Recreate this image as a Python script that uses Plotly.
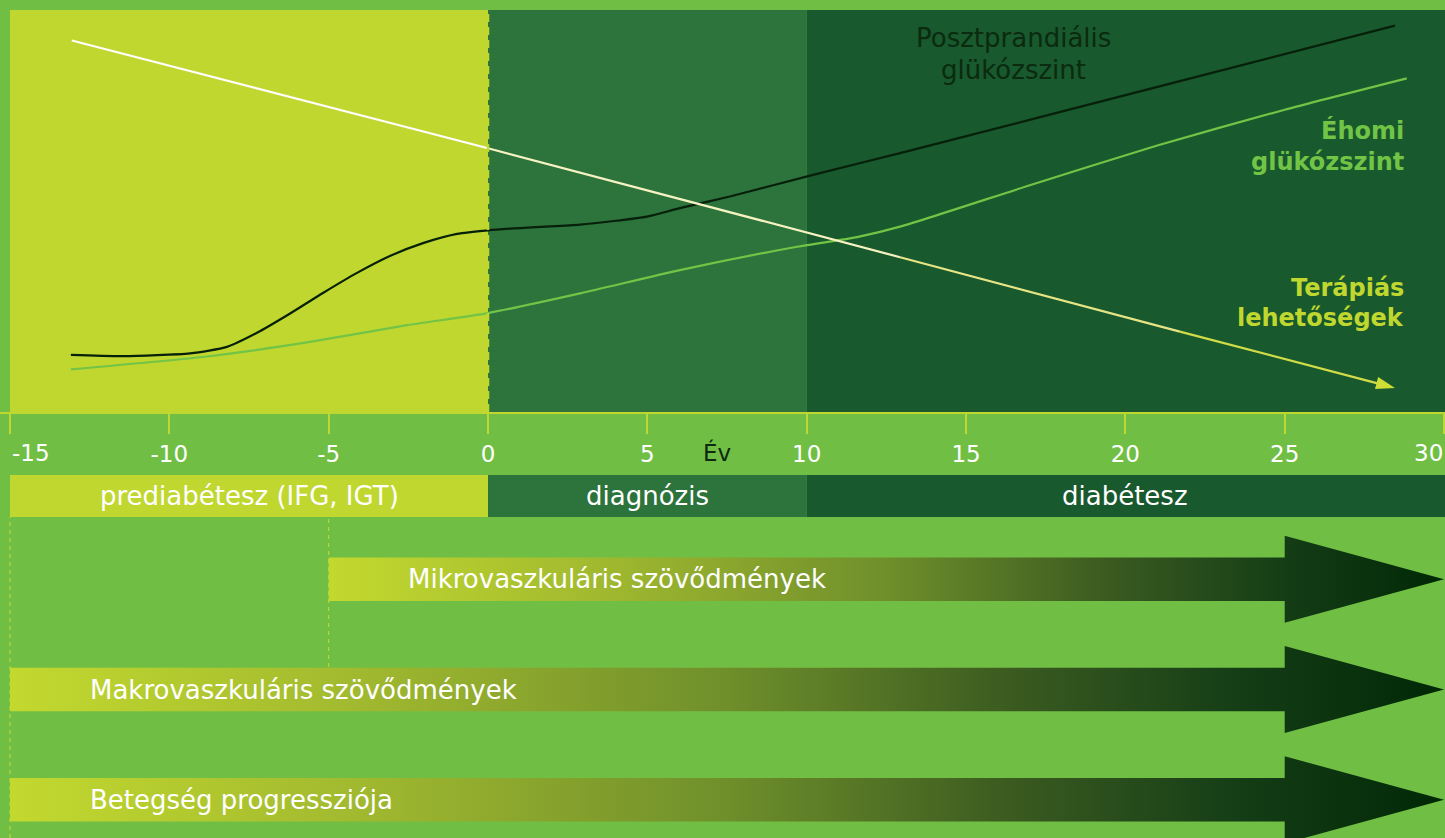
import plotly.graph_objects as go

# ---------------- data ----------------
# Posztprandiális glükózszint (relative level 0-100)
pp_years = [-13.09, -11.45, -9.35, -8.19, -7.25, -6.21, -5.18, -4.11, -3.08, -2.04, -0.97, 0.0, 1.5,
            2.89, 4.99, 6.02, 7.59, 10.2, 12.93, 21.71, 28.46]
pp_vals = [14.2, 13.9, 14.6, 16.2, 19.7, 24.5, 29.6, 34.6, 38.8, 42.0, 44.3, 45.2, 46.0,
           46.6, 48.6, 50.7, 53.6, 59.0, 64.4, 82.3, 96.1]
# Éhomi glükózszint
fg_years = [-13.09, -8.82, -5.68, -2.54, 0.0, 2.89, 6.02, 9.70, 11.58, 12.93, 17.0, 21.0, 25.0, 28.83]
fg_vals = [10.6, 13.8, 17.3, 21.6, 24.6, 29.5, 35.3, 41.1, 43.5, 46.1, 56.4, 66.3, 75.2, 83.0]
# Terápiás lehetőségek
th_years = [-13.06, 0.0, 12.93, 21.71, 28.46]
th_vals = [92.4, 65.6, 38.5, 20.0, 6.0]

phases = ["prediabétesz (IFG, IGT)", "diagnózis", "diabétesz"]
phase_start = [-15, 0, 10]
phase_end = [0, 10, 30]

complications = ["Mikrovaszkuláris szövődmények", "Makrovaszkuláris szövődmények", "Betegség progressziója"]
comp_start = [-5, -15, -15]
comp_end = [30, 30, 30]

tick_vals = [-15, -10, -5, 0, 5, 10, 15, 20, 25, 30]

# ---------------- style ----------------
FONT = "DejaVu Sans"
FS = 26      # labels
FS_T = 23    # tick labels
FS_B = 24    # bold curve labels
BG = "#70BF44"
YEL = "#C0D72F"
DIAG = "#2C733C"
DIAB = "#18592D"
DARK = "#0B2A10"
phase_cols = [YEL, DIAG, DIAB]

W, H = 1445, 838
XMIN, XMAX = -15.314, 30.03
top_dom = [1 - 412 / H, 1 - 10 / H]
band_y0, band_y1 = 1 - 517 / H, 1 - 475 / H
ROW_PX = 110.25
ROW0_PX = 579.3
y2_range = [(H - ROW0_PX) / ROW_PX, -ROW0_PX / ROW_PX]

fig = go.Figure()

# glucose curves
fig.add_trace(go.Scatter(x=fg_years, y=fg_vals, mode="lines", xaxis="x", yaxis="y",
                         line=dict(color="#72C446", width=2.2, shape="spline", smoothing=0.6),
                         hoverinfo="skip", showlegend=False))
fig.add_trace(go.Scatter(x=pp_years, y=pp_vals, mode="lines", xaxis="x", yaxis="y",
                         line=dict(color="#06200A", width=2.2, shape="spline", smoothing=0.6),
                         hoverinfo="skip", showlegend=False))

# therapy line, shaded from white to yellow
seg_cols = ["#FFFFFF", "#F6F2C2", "#E6E585", "#D0DC48"]
for i in range(len(th_years) - 1):
    last = i == len(th_years) - 2
    fig.add_trace(go.Scatter(
        x=th_years[i:i + 2], y=th_vals[i:i + 2],
        mode="lines+markers" if last else "lines", xaxis="x", yaxis="y",
        line=dict(color=seg_cols[i], width=2.2),
        marker=dict(symbol="arrow", size=[0, 20], angleref="previous", color="#CFDE36",
                    opacity=1, line=dict(width=0)) if last else None,
        hoverinfo="skip", showlegend=False))

# complication arrows (horizontal gradient)
HB, HH, HEAD = 0.197, 0.395, 5.0
grad = [[0, "#C3D92F"], [0.25, "#A0B82F"], [0.5, "#6F8F2B"], [0.7, "#3A5A20"],
        [0.86, "#143D16"], [1, "#002805"]]
for r, (name, s, e) in enumerate(zip(complications, comp_start, comp_end)):
    hs = e - HEAD
    xs = [s, hs, hs, e, hs, hs, s, s]
    ys = [r - HB, r - HB, r - HH, r, r + HH, r + HB, r + HB, r - HB]
    fig.add_trace(go.Scatter(x=xs, y=ys, xaxis="x", yaxis="y2", mode="lines", fill="toself",
                             line=dict(width=0), fillgradient=dict(type="horizontal", colorscale=grad),
                             hoverinfo="skip", showlegend=False))

shapes = []
annotations = []
for p, s, e, c in zip(phases, phase_start, phase_end, phase_cols):
    e2 = XMAX if e == max(phase_end) else e
    shapes.append(dict(type="rect", xref="x", yref="paper", x0=s, x1=e2, y0=top_dom[0], y1=top_dom[1],
                       fillcolor=c, line=dict(width=0), layer="below"))
    shapes.append(dict(type="rect", xref="x", yref="paper", x0=s, x1=e2, y0=band_y0, y1=band_y1,
                       fillcolor=c, line=dict(width=0), layer="below"))
    annotations.append(dict(x=(s + e) / 2, y=(band_y0 + band_y1) / 2, xref="x", yref="paper",
                            text=p, showarrow=False, font=dict(family=FONT, size=FS, color="white")))

# dashed guides
shapes.append(dict(type="line", xref="x", yref="paper", x0=0, x1=0, y0=top_dom[0], y1=top_dom[1],
                   line=dict(color=YEL, width=2.5, dash="8px,5px")))
shapes.append(dict(type="line", xref="x", yref="paper", x0=-15, x1=-15, y0=0, y1=band_y0,
                   line=dict(color="#C8D840", width=1, dash="4px,4px"), layer="below"))
shapes.append(dict(type="line", xref="x", yref="paper", x0=-5, x1=-5, y0=1 - 667 / H, y1=band_y0,
                   line=dict(color="#C8D840", width=1, dash="4px,4px"), layer="below"))

# arrow labels
lab_x = [-2.57, -12.55, -12.55]
for r, (name, lx) in enumerate(zip(complications, lab_x)):
    annotations.append(dict(x=lx, y=r, xref="x", yref="y2", text=name, showarrow=False,
                            xanchor="left", font=dict(family=FONT, size=FS, color="white")))

# curve labels
annotations += [
    dict(x=16.5, y=93.0, xref="x", yref="y", text="Posztprandiális", showarrow=False,
         font=dict(family=FONT, size=FS, color=DARK)),
    dict(x=16.5, y=85.1, xref="x", yref="y", text="glükózszint", showarrow=False,
         font=dict(family=FONT, size=FS, color=DARK)),
    dict(x=28.8, y=70.1, xref="x", yref="y", text="<b>Éhomi</b>", showarrow=False, xanchor="right",
         font=dict(family=FONT, size=FS_B, color="#72C446")),
    dict(x=28.8, y=62.3, xref="x", yref="y", text="<b>glükózszint</b>", showarrow=False, xanchor="right",
         font=dict(family=FONT, size=FS_B, color="#72C446")),
    dict(x=28.8, y=30.8, xref="x", yref="y", text="<b>Terápiás</b>", showarrow=False, xanchor="right",
         font=dict(family=FONT, size=FS_B, color=YEL)),
    dict(x=28.8, y=23.3, xref="x", yref="y", text="<b>lehetőségek</b>", showarrow=False, xanchor="right",
         font=dict(family=FONT, size=FS_B, color=YEL)),
    dict(x=7.2, y=1 - 452.5 / H, xref="x", yref="paper", text="Év", showarrow=False,
         font=dict(family=FONT, size=FS_T, color=DARK)),
    dict(x=tick_vals[0], y=1 - 452.5 / H, xref="x", yref="paper", text=str(tick_vals[0]), showarrow=False,
         xanchor="left", font=dict(family=FONT, size=FS_T, color="white")),
    dict(x=XMAX, y=1 - 452.5 / H, xref="x", yref="paper", text=str(tick_vals[-1]), showarrow=False,
         xanchor="right", font=dict(family=FONT, size=FS_T, color="white")),
]

tick_text = [""] + [str(v) for v in tick_vals[1:-1]] + [""]

fig.update_layout(
    width=W, height=H,
    margin=dict(l=0, r=0, t=0, b=0),
    paper_bgcolor=BG, plot_bgcolor="rgba(0,0,0,0)",
    xaxis=dict(range=[XMIN, XMAX], domain=[0, 1], anchor="y", showgrid=False, zeroline=False,
               showline=True, linecolor=YEL, linewidth=2, ticks="outside", ticklen=20, tickwidth=1.5,
               tickcolor=YEL, tickvals=tick_vals, ticktext=tick_text,
               tickfont=dict(family=FONT, size=FS_T, color="white"), fixedrange=True),
    yaxis=dict(range=[0, 100], domain=top_dom, visible=False, fixedrange=True),
    yaxis2=dict(range=y2_range, domain=[0, 1], anchor="x", visible=False, fixedrange=True),
    shapes=shapes, annotations=annotations, showlegend=False,
)

fig.write_html("out.html", config={"displayModeBar": False},
               post_script="document.body.style.margin='0';document.body.style.overflow='hidden';")
